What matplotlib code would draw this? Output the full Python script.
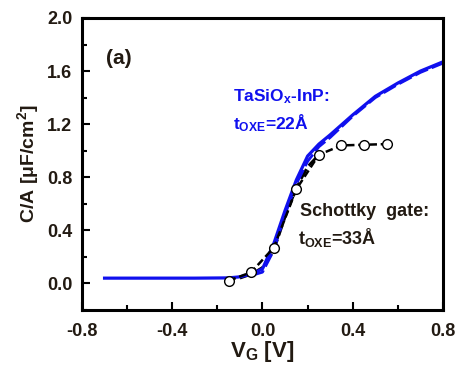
import matplotlib
matplotlib.use("Agg")
import matplotlib.pyplot as plt
from matplotlib.ticker import MultipleLocator

plt.rcParams["font.family"] = ["Liberation Sans", "DejaVu Sans"]
plt.rcParams["font.weight"] = "bold"
plt.rcParams["axes.unicode_minus"] = False
plt.rcParams["mathtext.fontset"] = "custom"
plt.rcParams["mathtext.rm"] = "Liberation Sans:bold"
plt.rcParams["mathtext.it"] = "Liberation Sans:bold"
plt.rcParams["mathtext.bf"] = "Liberation Sans:bold"

# TaSiOx-InP, solid sweep
v_blue = [-0.7, -0.3, -0.15, -0.1, -0.05, 0.0, 0.05, 0.1, 0.15, 0.2, 0.25, 0.3, 0.4, 0.5, 0.6, 0.7, 0.8]
c_blue = [0.04, 0.04, 0.042, 0.05, 0.07, 0.11, 0.30, 0.55, 0.78, 0.96, 1.05, 1.12, 1.27, 1.41, 1.51, 1.60, 1.67]

# TaSiOx-InP, dashed sweep
v_blue_d = [-0.05, 0.0, 0.05, 0.1, 0.15, 0.2, 0.25, 0.3, 0.4, 0.5, 0.6, 0.7, 0.8]
c_blue_d = [0.06, 0.085, 0.25, 0.52, 0.75, 0.92, 1.03, 1.10, 1.26, 1.40, 1.50, 1.59, 1.66]

# Schottky gate, measured points
v_sch = [-0.15, -0.05, 0.05, 0.15, 0.25, 0.35, 0.45, 0.55]
c_sch = [0.02, 0.085, 0.27, 0.71, 0.97, 1.04, 1.045, 1.05]

# Schottky gate, dashed sweep
v_sch_d = [-0.1, -0.05, 0.0, 0.05, 0.1, 0.15, 0.2, 0.25]
c_sch_d = [0.04, 0.07, 0.12, 0.25, 0.50, 0.72, 0.88, 0.97]

txt = "#221a12"
blue = "#1010ee"

fig = plt.figure(figsize=(4.56, 3.66), dpi=100)
ax = fig.add_axes([82 / 456, 1 - 310 / 366, (443 - 82) / 456, (310 - 18) / 366])

ax.plot(v_sch_d, c_sch_d, color="black", linewidth=2.0, linestyle=(0, (4, 1.5)))
ax.plot(v_blue_d, c_blue_d, color=blue, linewidth=2.0, linestyle=(0, (5, 1.5)))
ax.plot(v_blue, c_blue, color=blue, linewidth=2.3)
ax.plot(v_sch, c_sch, color="black", linewidth=1.8, linestyle=(0, (3, 1.5)),
        marker="o", markersize=7, markerfacecolor="white", markeredgecolor="black",
        markeredgewidth=1.0)

ax.set_xlim(-0.8, 0.8)
ax.set_ylim(-0.2, 2.0)
ax.xaxis.set_major_locator(MultipleLocator(0.4))
ax.xaxis.set_minor_locator(MultipleLocator(0.2))
ax.yaxis.set_major_locator(MultipleLocator(0.4))
ax.yaxis.set_minor_locator(MultipleLocator(0.2))
ax.tick_params(which="both", direction="in", width=1.5, colors="black",
               labelcolor=txt, labelsize=13)
ax.tick_params(which="major", length=6)
ax.tick_params(which="minor", length=3.5)
ax.tick_params(axis="x", pad=9)
ax.tick_params(axis="y", pad=7)
for lab in ax.get_xticklabels() + ax.get_yticklabels():
    lab.set_fontweight("bold")
for s in ax.spines.values():
    s.set_linewidth(2.2)

ax.set_xlabel(r"V$_\mathregular{G}$ [V]", fontsize=16, color=txt, labelpad=0, fontweight="bold")
ax.set_ylabel(r"C/A [$\mathregular{\mu}$F/cm$^\mathregular{2}$]", fontsize=14, color=txt,
              labelpad=4, fontweight="bold")

ax.text(0.066, 0.86, "(a)", transform=ax.transAxes, fontsize=15, color=txt, va="center",
        fontweight="bold")
ax.text(-0.13, 1.405, r"TaSiO$_\mathregular{x}$-InP:", fontsize=12.5, color=blue,
        va="center", fontweight="bold")
ax.text(-0.13, 1.21, r"t$_\mathregular{OXE}$=22Å", fontsize=12.5, color=blue,
        va="center", fontweight="bold")
ax.text(0.166, 0.54, "Schottky  gate:", fontsize=13, color=txt, va="center",
        fontweight="bold")
ax.text(0.157, 0.35, r"t$_\mathregular{OXE}$=33Å", fontsize=13, color=txt, va="center",
        fontweight="bold")

fig.savefig("out.png", dpi=100)
